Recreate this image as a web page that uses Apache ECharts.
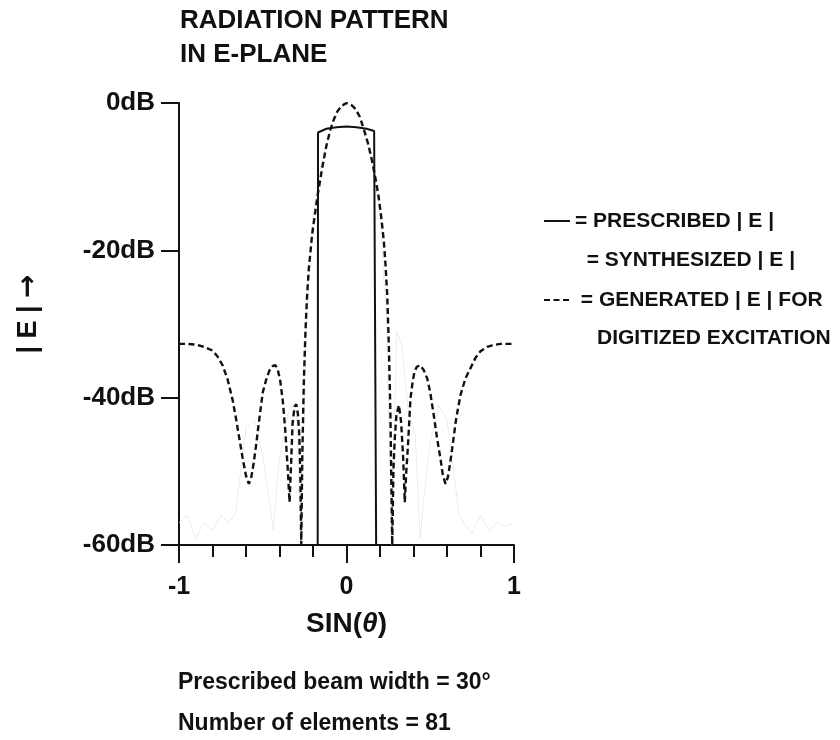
<!DOCTYPE html>
<html>
<head>
<meta charset="utf-8">
<script src="https://cdn.jsdelivr.net/npm/echarts@6/dist/echarts.min.js"></script>
<style>html,body{margin:0;padding:0;background:#fff}#c{width:840px;height:740px}</style>
</head>
<body>
<div id="c"></div>
<script>
// ---- data ----
var xTickLabels = ['-1', '0', '1'];
var yTickValues = [0, -20, -40, -60];

// PRESCRIBED |E| (solid)
var presX = [-0.172, -0.170, -0.160, -0.120, -0.060, 0.000, 0.060, 0.120, 0.165, 0.175, 0.177];
var presY = [-60, -4.0, -3.8, -3.5, -3.3, -3.2, -3.3, -3.5, -3.8, -4.0, -60];

// SYNTHESIZED |E| (faint dotted)
var synX = [-1.00, -0.95, -0.90, -0.85, -0.80, -0.75, -0.70, -0.66, -0.60, -0.55, -0.50, -0.46, -0.436, -0.41, -0.37, -0.33, -0.30, -0.27, -0.24, -0.20, -0.15, -0.10, -0.05, 0.00,
            0.05, 0.10, 0.15, 0.20, 0.24, 0.27, 0.30, 0.33, 0.37, 0.41, 0.44, 0.46, 0.50, 0.55, 0.60, 0.67, 0.70, 0.75, 0.80, 0.85, 0.90, 0.95, 1.00];
var synY = [-57, -56, -59, -57, -58, -56, -57, -55.5, -44, -43, -48, -54, -58, -50, -44, -41, -42, -60, -30, -15, -8, -4, -3.3, -3.2,
            -3.3, -4, -8, -15, -30, -60, -31, -33, -42, -45, -59, -54, -46, -41, -43, -55.5, -57, -58.5, -56, -58, -57, -57.5, -57];

// GENERATED |E| FOR DIGITIZED EXCITATION (dashed)
var genX = [-1.00, -0.95, -0.90, -0.85, -0.80, -0.77, -0.74, -0.71, -0.68, -0.66, -0.64, -0.62, -0.60, -0.583, -0.57, -0.555, -0.54, -0.52, -0.50, -0.48, -0.46, -0.44, -0.424, -0.41, -0.395, -0.38, -0.365, -0.35, -0.34, -0.33, -0.322, -0.31, -0.30, -0.29, -0.282, -0.276, -0.270, -0.264, -0.255, -0.245, -0.235, -0.225, -0.205, -0.175, -0.145, -0.12, -0.096, -0.075, -0.056, -0.03, 0.00,
            0.03, 0.054, 0.08, 0.104, 0.13, 0.153, 0.175, 0.193, 0.21, 0.223, 0.233, 0.243, 0.253, 0.262, 0.273, 0.28, 0.287, 0.298, 0.313, 0.326, 0.338, 0.348, 0.357, 0.366, 0.382, 0.395, 0.406, 0.42, 0.438, 0.46, 0.482, 0.50, 0.521, 0.54, 0.561, 0.575, 0.591, 0.605, 0.618, 0.631, 0.655, 0.681, 0.71, 0.74, 0.77, 0.80, 0.84, 0.87, 0.92, 1.00];
var genY = [-32.7, -32.7, -32.8, -33.1, -33.6, -34.4, -35.6, -37.5, -40.3, -42.8, -45.5, -48.2, -50.6, -51.7, -51.0, -49.0, -46.5, -42.8, -39.3, -37.6, -36.3, -35.7, -35.6, -36.2, -37.8, -40.5, -44.6, -50, -54.2, -48.5, -43.5, -41.2, -40.9, -42.2, -45, -50, -60, -48, -38, -31, -26, -22.5, -17.8, -12.9, -8.8, -5.8, -3.6, -2.2, -1.2, -0.4, 0,
            -0.3, -0.8, -1.9, -3.6, -5.6, -7.9, -10.5, -12.9, -16, -18.8, -22, -26, -33, -42, -60, -50, -46, -42.3, -41, -43.3, -48, -54.2, -50, -46.9, -40.1, -37.8, -36.5, -35.8, -35.6, -36.2, -37.4, -39.3, -42.4, -45.4, -48.3, -50.5, -51.7, -50.8, -49, -46.9, -42.8, -39.6, -37.4, -36.0, -34.6, -33.7, -33.1, -32.9, -32.7, -32.7];

function pairs(xs, ys) { return xs.map(function (x, i) { return [x, ys[i]]; }); }

var FONT = '"Liberation Sans", Arial, Helvetica, sans-serif';
var INK = '#111';

var chart = echarts.init(document.getElementById('c'), null, { renderer: 'canvas' });
chart.setOption({
  animation: false,
  backgroundColor: '#fff',
  textStyle: { fontFamily: FONT, color: INK, fontWeight: 'bold' },
  title: [
    { text: 'RADIATION PATTERN\nIN E-PLANE', left: 180, top: 4, padding: 0,
      textStyle: { fontFamily: FONT, fontSize: 26, fontWeight: 'bold', color: INK, lineHeight: 34 } },
    { text: 'DIGITIZED EXCITATION', left: 597, top: 326, padding: 0,
      textStyle: { fontFamily: FONT, fontSize: 21, fontWeight: 'bold', color: INK, lineHeight: 24 } },
    { text: 'Prescribed beam width = 30°', left: 178, top: 668, padding: 0,
      textStyle: { fontFamily: FONT, fontSize: 23, fontWeight: 'bold', color: INK, lineHeight: 30 } },
    { text: 'Number of elements = 81', left: 178, top: 709, padding: 0,
      textStyle: { fontFamily: FONT, fontSize: 23, fontWeight: 'bold', color: INK, lineHeight: 30 } }
  ],
  legend: {
    orient: 'vertical', left: 538, top: 204,
    itemWidth: 26, itemHeight: 2, itemGap: 15.5,
    itemStyle: { opacity: 0 },
    textStyle: { fontFamily: FONT, fontSize: 21, fontWeight: 'bold', color: INK, lineHeight: 24 },
    formatter: function (n) {
      if (n === 'PRESCRIBED') return '= PRESCRIBED | E |';
      if (n === 'SYNTHESIZED') return '  = SYNTHESIZED | E |';
      return ' = GENERATED | E | FOR';
    },
    data: [
      { name: 'PRESCRIBED' },
      { name: 'SYNTHESIZED', lineStyle: { opacity: 0 }, itemStyle: { opacity: 0 } },
      { name: 'GENERATED' }
    ]
  },
  grid: { left: 179, right: 326, top: 103, bottom: 195, containLabel: false },
  xAxis: {
    type: 'value', min: -1, max: 1, interval: 1,
    name: 'SIN({i|θ})', nameLocation: 'middle', nameGap: 62,
    nameTextStyle: { fontFamily: FONT, fontSize: 28, fontWeight: 'bold', color: INK, lineHeight: 34,
      rich: { i: { fontFamily: FONT, fontSize: 28, fontWeight: 'bold', fontStyle: 'italic', color: INK } } },
    axisLine: { show: true, onZero: false, lineStyle: { color: INK, width: 2 } },
    axisTick: { show: true, length: 18, lineStyle: { color: INK, width: 2 } },
    minorTick: { show: true, splitNumber: 5, length: 12, lineStyle: { color: INK, width: 2 } },
    axisLabel: { fontFamily: FONT, fontSize: 25, fontWeight: 'bold', color: INK, margin: 30,
      formatter: function (v) { var i = Math.round(v) + 1; return xTickLabels[i] !== undefined ? xTickLabels[i] : ''; } },
    splitLine: { show: false }
  },
  yAxis: {
    type: 'value', min: -60, max: 0, interval: 20,
    name: '| E | {a|→}', nameLocation: 'middle', nameGap: 136,
    nameTextStyle: { fontFamily: FONT, fontSize: 27, fontWeight: 'bold', color: INK, padding: [0, 0, 0, 20],
      rich: { a: { fontFamily: '"DejaVu Sans", sans-serif', fontSize: 28, fontWeight: 'bold', color: INK } } },
    axisLine: { show: true, onZero: false, lineStyle: { color: INK, width: 2 } },
    axisTick: { show: true, length: 18, lineStyle: { color: INK, width: 2 } },
    axisLabel: { fontFamily: FONT, fontSize: 26, fontWeight: 'bold', color: INK, margin: 24,
      formatter: function (v) { return yTickValues.indexOf(v) >= 0 ? v + 'dB' : ''; } },
    splitLine: { show: false }
  },
  series: [
    { name: 'PRESCRIBED', type: 'line', data: pairs(presX, presY), symbol: 'none', z: 3,
      lineStyle: { color: INK, width: 2, type: 'solid' }, itemStyle: { color: INK } },
    { name: 'SYNTHESIZED', type: 'line', data: pairs(synX, synY), symbol: 'none', z: 1,
      lineStyle: { color: '#dadada', width: 1, type: 'dotted' }, itemStyle: { color: '#dadada' } },
    { name: 'GENERATED', type: 'line', data: pairs(genX, genY), symbol: 'none', z: 4,
      lineStyle: { color: INK, width: 2.4, type: [6, 3.5] }, itemStyle: { color: INK } }
  ]
});
</script>
</body>
</html>
